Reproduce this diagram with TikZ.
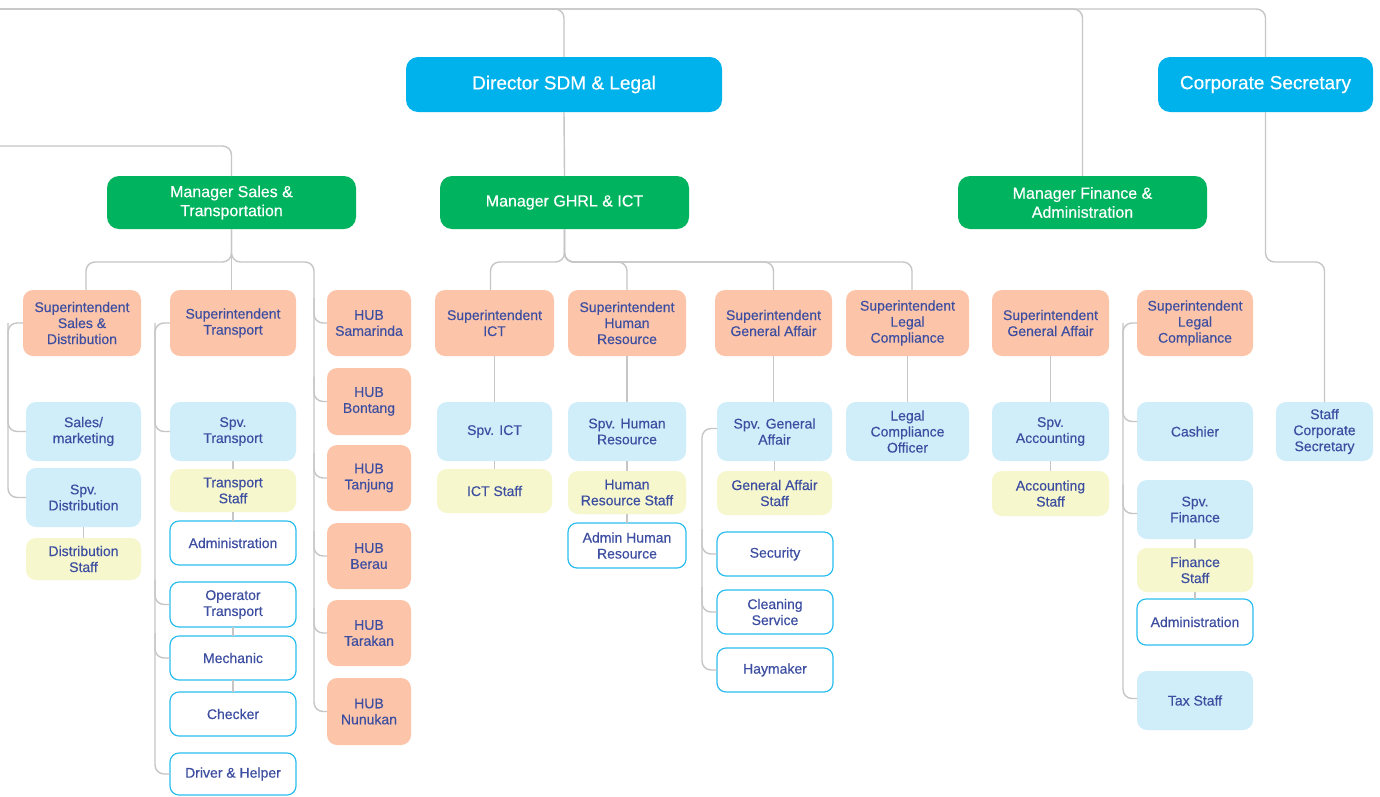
\documentclass[tikz,border=0pt]{standalone}
\usepackage{fontspec}
\setmainfont{Liberation Sans}
\newfontfamily\medfont[FakeBold=0.35]{Liberation Sans}
\usetikzlibrary{calc}
\definecolor{dirblue}{HTML}{00B2EC}
\definecolor{mgrgreen}{HTML}{00B45F}
\definecolor{salmon}{HTML}{FCC5AA}
\definecolor{lblue}{HTML}{CFEEFA}
\definecolor{lyellow}{HTML}{F6F7CD}
\definecolor{obord}{HTML}{2BBDEE}
\definecolor{txtcol}{HTML}{3D4EA1}
\definecolor{conncol}{HTML}{C6C6C6}
\newcommand\orgbox[7]{\node[#1, minimum width={#5-#3}, minimum height={#6-#4}] (#2) at ({(#3+#5)/2},{(#4+#6)/2}) {#7};}
\begin{document}
\begin{tikzpicture}[x=1pt,y=-1pt,
  base/.style={inner sep=0pt, outer sep=0pt, align=center, rounded corners=10pt},
  dirbox/.style={base, fill=dirblue, text=white, font=\medfont\fontsize{19}{22}\selectfont, rounded corners=12pt},
  mgrbox/.style={base, fill=mgrgreen, text=white, font=\medfont\fontsize{16}{19}\selectfont, rounded corners=12pt},
  smallfont/.style={text=txtcol, font=\medfont\fontsize{14}{16}\selectfont},
  supbox/.style={base, smallfont, fill=salmon},
  spvbox/.style={base, smallfont, fill=lblue},
  stfbox/.style={base, smallfont, fill=lyellow},
  outbox/.style={base, smallfont, fill=white, draw=obord, line width=1.2pt, rounded corners=9pt},
  conn/.style={draw=conncol, line width=1.4pt, rounded corners=9pt}]
\useasboundingbox (0,0) rectangle (1380,796);
\fill[white] (0,0) rectangle (1380,796);
\coordinate (topL) at (0,9);
\coordinate (midL) at (0,146);

% top level
\orgbox{dirbox}{dirS}{406}{57}{722}{112}{Director SDM \& Legal}
\orgbox{dirbox}{corp}{1158}{57}{1373}{112}{Corporate Secretary}
% managers
\orgbox{mgrbox}{mSales}{107}{176}{356}{229}{Manager Sales \&\\Transportation}
\orgbox{mgrbox}{mGhrl}{440}{176}{689}{229}{Manager GHRL \& ICT}
\orgbox{mgrbox}{mFin}{958}{176}{1207}{229}{Manager Finance \&\\Administration}
% sales & transport
\orgbox{supbox}{sSales}{23}{290}{141}{356}{Superintendent\\Sales \&\\Distribution}
\orgbox{supbox}{sTrans}{170}{290}{296}{356}{Superintendent\\Transport}
\orgbox{supbox}{hSam}{327}{290}{411}{356}{HUB\\Samarinda}
\orgbox{supbox}{hBon}{327}{368}{411}{435}{HUB\\Bontang}
\orgbox{supbox}{hTan}{327}{445}{411}{511}{HUB\\Tanjung}
\orgbox{supbox}{hBer}{327}{523}{411}{589}{HUB\\Berau}
\orgbox{supbox}{hTar}{327}{600}{411}{666}{HUB\\Tarakan}
\orgbox{supbox}{hNun}{327}{678}{411}{745}{HUB\\Nunukan}
\orgbox{spvbox}{spSales}{26}{402}{141}{461}{Sales/\\marketing}
\orgbox{spvbox}{spDist}{26}{468}{141}{527}{Spv.\\Distribution}
\orgbox{stfbox}{stDist}{26}{538}{141}{580}{Distribution\\Staff}
\orgbox{spvbox}{spTrans}{170}{402}{296}{461}{Spv.\\Transport}
\orgbox{stfbox}{stTrans}{170}{469}{296}{512}{Transport\\Staff}
\orgbox{outbox}{oAdmA}{170}{521}{296}{565}{Administration}
\orgbox{outbox}{oOper}{170}{582}{296}{627}{Operator\\Transport}
\orgbox{outbox}{oMech}{170}{636}{296}{680}{Mechanic}
\orgbox{outbox}{oChk}{170}{692}{296}{736}{Checker}
\orgbox{outbox}{oDrv}{170}{753}{296}{795}{Driver \& Helper}
% GHRL & ICT
\orgbox{supbox}{sIct}{435}{290}{554}{356}{Superintendent\\ICT}
\orgbox{supbox}{sHr}{568}{290}{686}{356}{Superintendent\\Human\\Resource}
\orgbox{supbox}{sGa}{715}{290}{832}{356}{Superintendent\\General Affair}
\orgbox{supbox}{sLeg}{846}{290}{969}{356}{Superintendent\\Legal\\Compliance}
\orgbox{spvbox}{spIct}{437}{402}{552}{461}{Spv. ICT}
\orgbox{stfbox}{stIct}{437}{469}{552}{513}{ICT Staff}
\orgbox{spvbox}{spHr}{568}{402}{686}{461}{Spv. Human\\Resource}
\orgbox{stfbox}{stHr}{568}{471}{686}{514}{Human\\Resource Staff}
\orgbox{outbox}{oAdmHr}{568}{523}{686}{568}{Admin Human\\Resource}
\orgbox{spvbox}{spGa}{717}{402}{832}{461}{Spv. General\\Affair}
\orgbox{stfbox}{stGa}{717}{471}{832}{515}{General Affair\\Staff}
\orgbox{outbox}{oSec}{717}{532}{833}{576}{Security}
\orgbox{outbox}{oClean}{717}{590}{833}{634}{Cleaning\\Service}
\orgbox{outbox}{oHay}{717}{648}{833}{692}{Haymaker}
\orgbox{spvbox}{spLeg}{846}{402}{969}{461}{Legal\\Compliance\\Officer}
% Finance
\orgbox{supbox}{sGaB}{992}{290}{1109}{356}{Superintendent\\General Affair}
\orgbox{spvbox}{spAcc}{992}{402}{1109}{461}{Spv.\\Accounting}
\orgbox{stfbox}{stAcc}{992}{471}{1109}{516}{Accounting\\Staff}
\orgbox{supbox}{sLegB}{1137}{290}{1253}{356}{Superintendent\\Legal\\Compliance}
\orgbox{spvbox}{spCash}{1137}{402}{1253}{461}{Cashier}
\orgbox{spvbox}{spFin}{1137}{480}{1253}{539}{Spv.\\Finance}
\orgbox{stfbox}{stFin}{1137}{548}{1253}{592}{Finance\\Staff}
\orgbox{outbox}{oAdmB}{1137}{599}{1253}{645}{Administration}
\orgbox{spvbox}{spTax}{1137}{671}{1253}{730}{Tax Staff}
\orgbox{spvbox}{spCorp}{1276}{402}{1373}{461}{Staff\\Corporate\\Secretary}

% connectors
\begin{scope}[conn]
\draw (topL) -| (dirS.north);
\draw (topL) -| (mFin.north);
\draw (topL) -| (corp.north);
\draw (midL) -| (mSales.north);
\draw (dirS.south) -- (mGhrl.north);
% sales
\draw (mSales.south) -- ++(0,33) -| ([xshift=4pt]sSales.north);
\draw (mSales.south) -- (mSales.south |- sTrans.north);
\draw (mSales.south) -- ++(0,33) -| ($(hNun.west)+(-13,0)$) -- (hNun.west);
\foreach \h in {hSam,hBon,hTan,hBer,hTar}
  \draw ($(\h.west)+(-13,-25)$) |- (\h.west);
\draw (sSales.west) -- ++(-15,0) |- (spDist.west);
\draw ($(sSales.west)+(-15,0)$) |- (spSales.west);
\draw (spDist.south) -- (stDist.north);
\draw (sTrans.west) -- ++(-15,0) |- (oDrv.west);
\draw ($(sTrans.west)+(-15,0)$) |- (spTrans.west);
\draw ($(oOper.west)+(-15,-25)$) |- (oOper.west);
\draw ($(oMech.west)+(-15,-25)$) |- (oMech.west);
\draw (spTrans.south) -- (stTrans.north);
\draw (stTrans.south) -- (oAdmA.north);
\draw (oOper.south) -- (oMech.north);
\draw (oMech.south) -- (oChk.north);
% GHRL
\draw (mGhrl.south) -- ++(0,33) -| ([xshift=-4pt]sIct.north);
\draw (mGhrl.south) -- ++(0,33) -| (sHr.north);
\draw (mGhrl.south) -- ++(0,33) -| (sGa.north);
\draw (mGhrl.south) -- ++(0,33) -| ([xshift=4.5pt]sLeg.north);
\draw (sIct.south) -- (spIct.north);
\draw (spIct.south) -- (stIct.north);
\draw (sHr.south) -- (spHr.north);
\draw (spHr.south) -- (stHr.north);
\draw (stHr.south) -- (oAdmHr.north);
\draw (sGa.south) -- (sGa.south |- spGa.north);
\draw (spGa.south |- stGa.north) -- (spGa.south);
\draw ([yshift=3pt]spGa.west) -- ++(-15,0) |- (oHay.west);
\draw ($(oSec.west)+(-15,-25)$) |- (oSec.west);
\draw ($(oClean.west)+(-15,-25)$) |- (oClean.west);
\draw (sLeg.south) -- (spLeg.north);
% finance
\draw (sGaB.south) -- (spAcc.north);
\draw (spAcc.south) -- (stAcc.north);
\draw (sLegB.west) -- ++(-14,0) |- ([yshift=2pt]spTax.west);
\draw ($(sLegB.west)+(-14,0)$) |- ([yshift=10pt]spCash.west);
\draw ($(spFin.west)+(-14,-25)$) |- ([yshift=-4pt]spFin.west);
\draw (spFin.south) -- (stFin.north);
\draw (stFin.south) -- (oAdmB.north);
% corporate secretary
\draw (corp.south) -- ++(0,150) -| (spCorp.north);
\end{scope}
\end{tikzpicture}
\end{document}
